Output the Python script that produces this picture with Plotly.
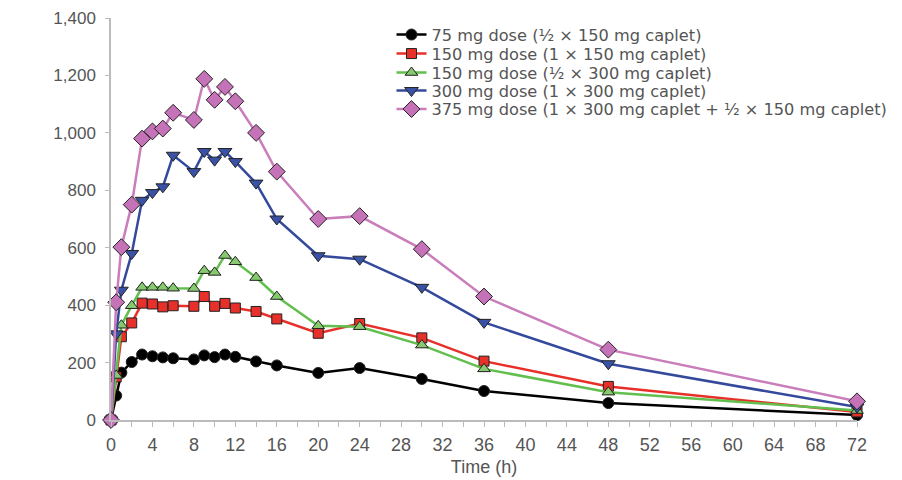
import plotly.graph_objects as go

time_h = [0, 0.5, 1, 2, 3, 4, 5, 6, 8, 9, 10, 11, 12, 14, 16, 20, 24, 30, 36, 48, 72]

dose_75 = [0, 85, 165, 202, 228, 222, 218, 215, 211, 225, 219, 228, 220, 204, 190, 164, 181, 143, 101, 59, 17]
dose_150_1x150 = [0, 150, 290, 338, 407, 404, 394, 398, 396, 430, 396, 406, 390, 378, 352, 302, 336, 286, 205, 117, 28]
dose_150_half300 = [0, 155, 330, 398, 462, 462, 462, 459, 458, 520, 514, 573, 551, 496, 430, 328, 325, 261, 178, 97, 33]
dose_300 = [0, 300, 452, 580, 765, 792, 812, 922, 865, 935, 905, 935, 900, 825, 700, 572, 560, 462, 340, 196, 45]
dose_375 = [0, 410, 602, 750, 980, 1005, 1015, 1070, 1045, 1188, 1115, 1160, 1110, 1000, 865, 700, 710, 595, 430, 245, 65]

series_names = [
    "75 mg dose (½ × 150 mg caplet)",
    "150 mg dose (1 × 150 mg caplet)",
    "150 mg dose (½ × 300 mg caplet)",
    "300 mg dose (1 × 300 mg caplet)",
    "375 mg dose (1 × 300 mg caplet + ½ × 150 mg caplet)",
]
series_values = [dose_75, dose_150_1x150, dose_150_half300, dose_300, dose_375]
line_colors = ["#000000", "#e8302a", "#62bf4e", "#34499c", "#c97dbb"]
fill_colors = ["#000000", "#e8302a", "#86c96e", "#3a52a6", "#c672b8"]
symbols = ["circle", "square", "triangle-up", "triangle-down", "diamond"]
sizes = [11, 10, 11, 12, 13]

# one single-entry legend per series, so rows can be spaced like the original
legend_ids = ["legend", "legend2", "legend3", "legend4", "legend5"]
legend_rows_y = [0.9577, 0.9104, 0.8632, 0.8184, 0.7724]

fig = go.Figure()
for name, vals, lc, fc, sym, sz, lg in zip(series_names, series_values, line_colors,
                                           fill_colors, symbols, sizes, legend_ids):
    fig.add_trace(go.Scatter(
        x=time_h, y=vals, name=name, mode="lines+markers",
        line=dict(color=lc, width=2.5),
        marker=dict(symbol=sym, size=sz, color=fc, line=dict(color="#222222", width=1)),
        cliponaxis=False, legend=lg,
    ))

tick_font = "Liberation Sans, Arial, sans-serif"
legend_font = dict(family="DejaVu Sans, sans-serif", size=16.2, color="#555555")

legend_layout = {}
for lg, ly in zip(legend_ids, legend_rows_y):
    legend_layout[lg] = dict(
        x=0.376, y=ly, xanchor="left", yanchor="middle",
        font=legend_font, bgcolor="rgba(0,0,0,0)",
    )

fig.update_layout(
    width=902, height=480,
    margin=dict(l=103, r=53, t=10, b=68, autoexpand=False),
    plot_bgcolor="white", paper_bgcolor="white",
    showlegend=True,
    xaxis=dict(
        range=[0, 72], tickmode="linear", tick0=0, dtick=4,
        showgrid=False, zeroline=False, automargin=False,
        showline=True, linecolor="#bbbbbb", linewidth=1.5,
        ticks="outside", ticklen=5, tickcolor="#bbbbbb", ticklabelstandoff=3,
        minor=dict(dtick=2, ticks="outside", ticklen=5, tickcolor="#bbbbbb"),
        tickfont=dict(family=tick_font, size=18, color="#555555"),
        title=dict(text="Time (h)", font=dict(family=tick_font, size=18, color="#555555"), standoff=6),
    ),
    yaxis=dict(
        range=[0, 1400], tickmode="linear", tick0=0, dtick=200,
        showgrid=False, zeroline=False, automargin=False,
        showline=True, linecolor="#bbbbbb", linewidth=1.5,
        ticks="outside", ticklen=4, tickcolor="#bbbbbb",
        tickformat=",d", ticklabelstandoff=6, ticklabeloverflow="allow",
        tickfont=dict(family=tick_font, size=17, color="#555555"),
    ),
    **legend_layout,
)

fig.write_html("out.html")
